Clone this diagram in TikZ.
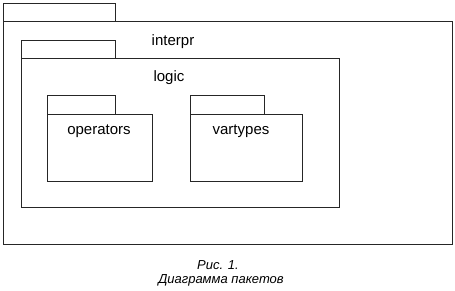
\documentclass[tikz,border=0pt]{standalone}
\usepackage{fontspec}
\setmainfont{Liberation Sans}
\begin{document}
\begin{tikzpicture}[x=1pt,y=-1pt,
  pkbox/.style={draw=black!85, line width=0.9pt, inner sep=0pt, outer sep=0pt, anchor=north west},
  pklabel/.style={font=\fontsize{15}{18}\selectfont, inner sep=0pt},
  caplabel/.style={font=\fontsize{13}{15}\selectfont\itshape, inner sep=0pt}]
\useasboundingbox (0,0) rectangle (455,291);
% outer package
\node[pkbox, minimum width=112pt, minimum height=18pt] (otab) at (3,3) {};
\node[pkbox, minimum width=449pt, minimum height=223pt] (obody) at (3,21) {};
\node[pklabel] (interpr) at (173,42) {interpr};
% logic
\node[pkbox, minimum width=94pt, minimum height=18pt] (ltab) at (21,40) {};
\node[pkbox, minimum width=318pt, minimum height=149pt] (lbody) at (21,58) {};
\node[pklabel] (logic) at (169,78) {logic};
% operators
\node[pkbox, minimum width=68pt, minimum height=19pt] (optab) at (47,95) {};
\node[pkbox, minimum width=105pt, minimum height=67pt] (opbody) at (47,114) {};
\node[pklabel] (operators) at (99,131) {operators};
% vartypes
\node[pkbox, minimum width=74pt, minimum height=19pt] (vttab) at (190,95) {};
\node[pkbox, minimum width=112pt, minimum height=67pt] (vtbody) at (190,114) {};
\node[pklabel] (vartypes) at (241,131) {vartypes};
% caption
\node[caplabel] (cap1) at (218,265) {Рис. 1.};
\node[caplabel] (cap2) at (221,280) {Диаграмма пакетов};
\end{tikzpicture}
\end{document}
